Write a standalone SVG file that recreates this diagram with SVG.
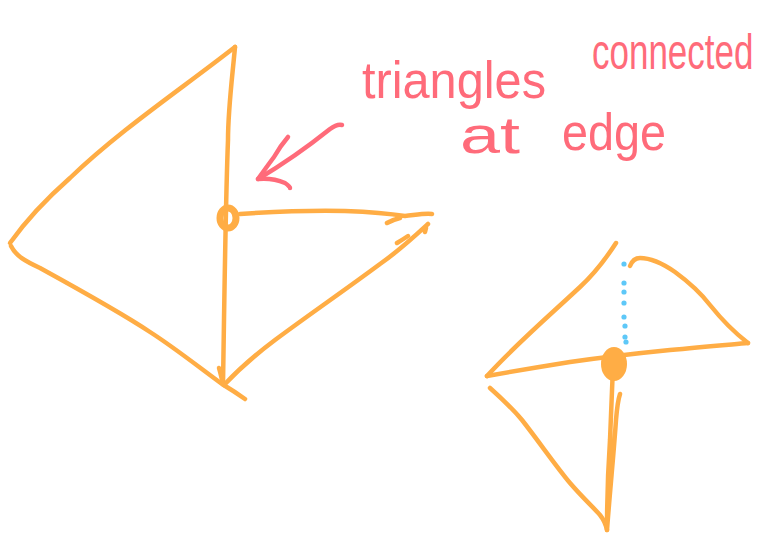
<svg xmlns="http://www.w3.org/2000/svg" width="757" height="536" viewBox="0 0 757 536">
<style>
.o{fill:none;stroke:#FFAD45;stroke-width:4.5;stroke-linecap:round;stroke-linejoin:round}
.r{fill:none;stroke:#FF6B7A;stroke-width:4.5;stroke-linecap:round;stroke-linejoin:round}
.t{fill:#FF6B7A;font-family:"Liberation Sans",Arial,sans-serif;font-size:52px}
.dot{fill:#5EC8F8}
</style>
<rect width="757" height="536" fill="#ffffff"/>
<g id="left-triangle">
<path class="o" d="M235,47 C232,80 228,110 228,140 C226,190 225,260 224,320 L223,384"/>
<path class="o" d="M235,47 C180,90 120,130 70,178 C45,200 25,222 10,243"/>
<path class="o" d="M11,246 C16,256 25,261 40,268 C80,290 120,312 150,332 C175,348 200,368 222,384 C232,390 238,394 245,399"/>
<path class="o" d="M224,385 C240,368 255,355 275,340 C310,314 345,290 380,264 C400,250 415,236 428,224 M426,228 L425,232"/>
<path class="o" d="M240,214 C270,212 310,210 345,211 C370,212 392,214 405,216 C415,215 425,213 432,214 M387,223 C392,220 396,219 400,218 M397,243 C402,240 405,238 408,236"/>
<path class="o" d="M219,368 C221,375 222,380 223,384"/>
<ellipse cx="228" cy="218" rx="8" ry="10" fill="none" stroke="#FFAD45" stroke-width="7"/>
</g>
<g id="right-shape">
<path class="o" d="M616,243 C605,260 593,275 580,287 C550,315 515,345 487,376"/>
<path class="o" d="M487,376 C515,371 545,366 570,362 C605,357 640,353 670,350 C700,347 725,345 748,343"/>
<path class="o" d="M630,266 C632,261 635,258 640,258 C650,258 662,263 675,272 C690,283 700,292 710,305 C722,320 735,333 748,343"/>
<path class="o" d="M490,388 C500,397 512,408 522,420 C540,443 555,465 570,483 C582,497 592,506 600,515 C604,520 606,525 607,530"/>
<path class="o" d="M613,366 C612,390 611,415 610,440 C608,470 607,500 607,530 C610,490 614,450 616,420 C617,408 618,400 620,394"/>
<ellipse cx="614" cy="364" rx="13" ry="17" fill="#FFAD45"/>
<g class="dot">
<circle cx="624" cy="264" r="2.6"/>
<circle cx="624" cy="283" r="2.6"/>
<circle cx="624" cy="292" r="2.6"/>
<circle cx="624" cy="303" r="2.6"/>
<circle cx="624" cy="317" r="2.6"/>
<circle cx="625" cy="326" r="2.6"/>
<circle cx="625" cy="337" r="2.6"/>
<circle cx="626" cy="342" r="2.6"/>
</g>
</g>
<g id="annotation">
<text class="t" x="362" y="98" textLength="184" lengthAdjust="spacingAndGlyphs">triangles</text>
<text class="t" transform="translate(592,69) scale(1,1.45)" x="0" y="0" style="font-size:35px">connected</text>
<text class="t" x="460" y="153" textLength="60" lengthAdjust="spacingAndGlyphs">at</text>
<text class="t" x="562" y="150" textLength="104" lengthAdjust="spacingAndGlyphs">edge</text>
</g>
<g id="connectors">
<path class="r" d="M342,125 C338,124 334,126 330,129 C310,145 285,163 258,179"/>
<path class="r" d="M288,137 C282,144 278,150 274,157 C268,165 263,172 258,179 C268,178 278,180 285,183 C288,185 290,187 290,188"/>
</g>
</svg>
